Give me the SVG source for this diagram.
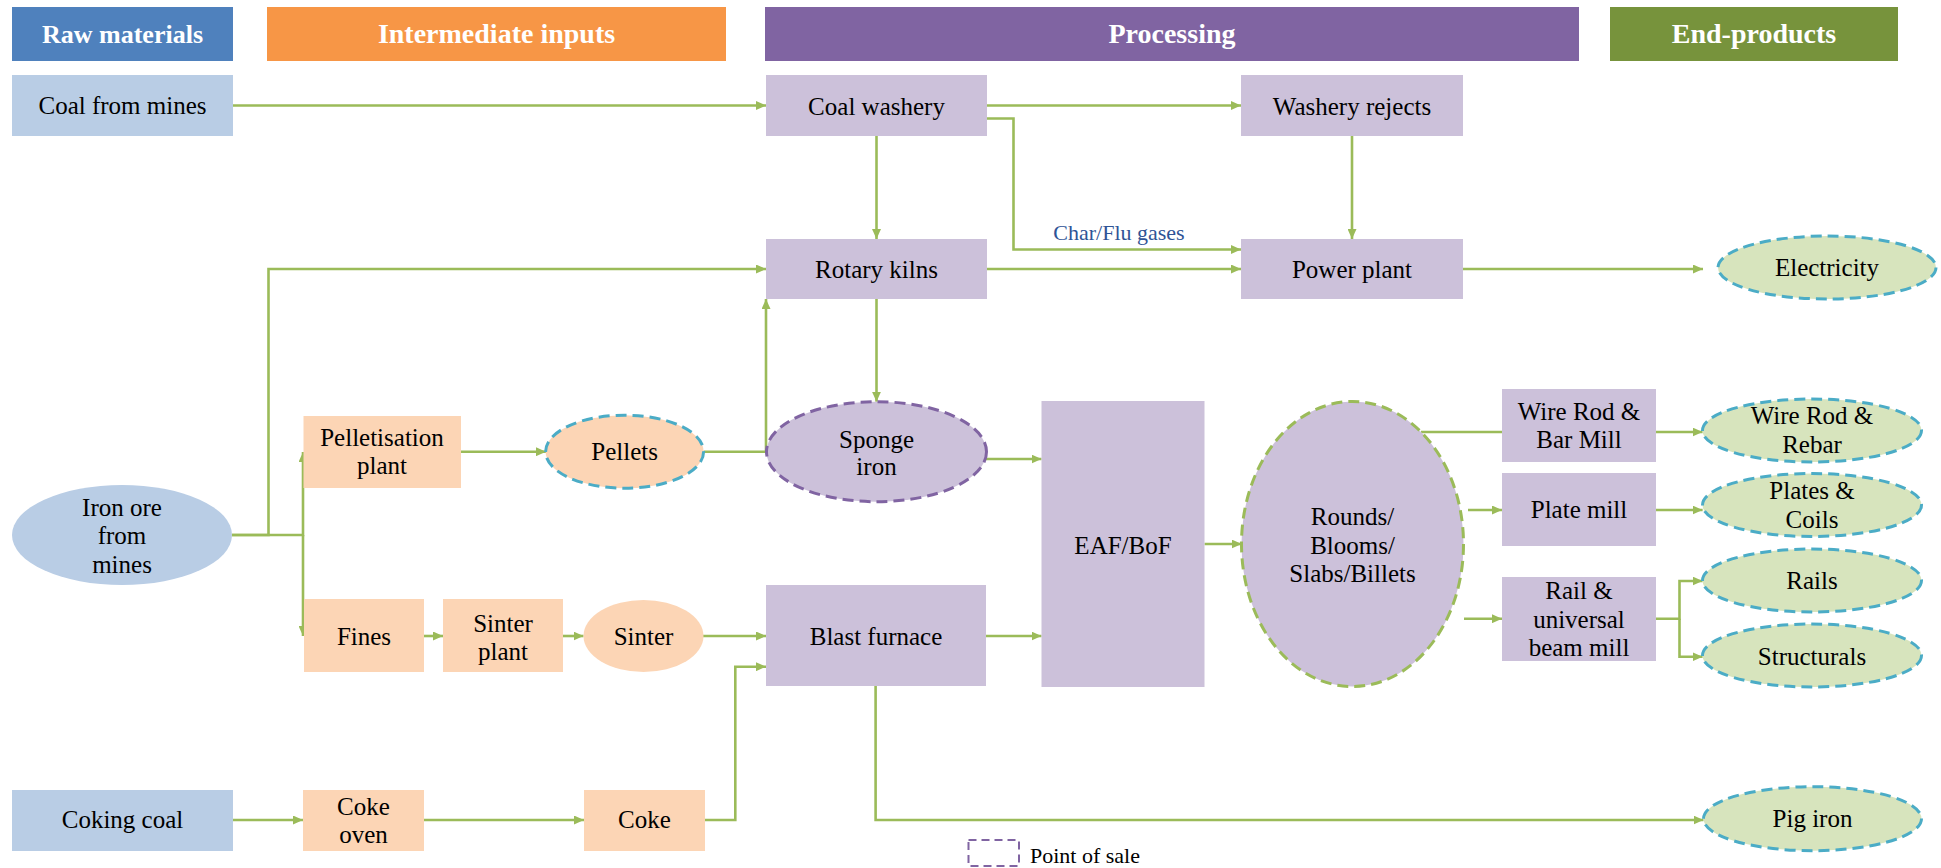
<svg xmlns="http://www.w3.org/2000/svg" width="1941" height="868" viewBox="0 0 1941 868">
<style>
text{font-family:"Liberation Serif","Times New Roman",serif;font-size:25px;fill:#000;text-anchor:middle}
.hd{font-weight:bold;font-size:28px;fill:#fff}
.raw{fill:#B9CDE5}
.mid{fill:#FCD5B5}
.proc{fill:#CCC1DA}
.end{fill:#D7E4BD}
.sale{stroke:#4BACC6;stroke-width:3;stroke-dasharray:11 6}
.conn path{fill:none;stroke:#9BBB59;stroke-width:2.6}
.lbl{font-size:22px;fill:#2F5496}
</style>
<defs>
<marker id="ah" viewBox="0 0 10 9" refX="10" refY="4.5" markerWidth="10" markerHeight="9" markerUnits="userSpaceOnUse" orient="auto">
<path d="M0,0 L10,4.5 L0,9 z" fill="#9BBB59"/>
</marker>
</defs>
<rect width="1941" height="868" fill="#fff"/>

<g id="headers">
<g id="h-raw"><rect x="12" y="7" width="221" height="54" fill="#4F81BD"/><text class="hd" x="122.5" y="43" style="font-size:26px">Raw materials</text></g>
<g id="h-int"><rect x="267" y="7" width="459" height="54" fill="#F79646"/><text class="hd" x="496.5" y="43">Intermediate inputs</text></g>
<g id="h-proc"><rect x="765" y="7" width="814" height="54" fill="#8064A2"/><text class="hd" x="1172" y="43">Processing</text></g>
<g id="h-end"><rect x="1610" y="7" width="288" height="54" fill="#77933C"/><text class="hd" x="1754" y="43">End-products</text></g>
</g>

<g class="conn" id="connectors">
<path d="M233,105.5 H766" marker-end="url(#ah)"/>
<path d="M987,105.5 H1241" marker-end="url(#ah)"/>
<path d="M987,118.5 H1013.5 V249.5 H1241" marker-end="url(#ah)"/>
<path d="M876.5,136 V239" marker-end="url(#ah)"/>
<path d="M1352,136 V239" marker-end="url(#ah)"/>
<path d="M987,269 H1241" marker-end="url(#ah)"/>
<path d="M1463,269 H1703" marker-end="url(#ah)"/>
<path d="M232,535 H268.5 V269 H766" marker-end="url(#ah)"/>
<path d="M232,535 H303 V452" marker-end="url(#ah)"/>
<path d="M303,535 V636" marker-end="url(#ah)"/>
<path d="M461,451.7 H546" marker-end="url(#ah)"/>
<path d="M703.5,451.7 H767"/>
<path d="M766,451.7 V299" marker-end="url(#ah)"/>
<path d="M876.5,299 V401.7" marker-end="url(#ah)"/>
<path d="M424,636 H443" marker-end="url(#ah)"/>
<path d="M563,636 H583.5" marker-end="url(#ah)"/>
<path d="M703,636 H766" marker-end="url(#ah)"/>
<path d="M233,820 H303" marker-end="url(#ah)"/>
<path d="M424,820 H584" marker-end="url(#ah)"/>
<path d="M705,820 H735.3 V666.7 H766" marker-end="url(#ah)"/>
<path d="M875.6,686 V820 H1703.5" marker-end="url(#ah)"/>
<path d="M986,459 H1041.5" marker-end="url(#ah)"/>
<path d="M986,636 H1041.5" marker-end="url(#ah)"/>
<path d="M1204.5,544 H1241.7" marker-end="url(#ah)"/>
<path d="M1421,432 H1502"/>
<path d="M1468,510 H1502" marker-end="url(#ah)"/>
<path d="M1464,618.7 H1502" marker-end="url(#ah)"/>
<path d="M1656,432 H1702.6" marker-end="url(#ah)"/>
<path d="M1656,510 H1702.6" marker-end="url(#ah)"/>
<path d="M1656,618.7 H1679.5 V581 H1702.6" marker-end="url(#ah)"/>
<path d="M1679.5,618.7 V656.7 H1702.6" marker-end="url(#ah)"/>
</g>
<text class="lbl" x="1119" y="240">Char/Flu gases</text>

<g id="coal-mines"><rect class="raw" x="12" y="75" width="221" height="61"/><text x="122.5" y="114">Coal from mines</text></g>
<g id="iron-ore"><ellipse class="raw" cx="122" cy="535" rx="110" ry="50"/><text x="122" y="516">Iron ore</text><text x="122" y="544">from</text><text x="122" y="572.7">mines</text></g>
<g id="coking-coal"><rect class="raw" x="12" y="790" width="221" height="61"/><text x="122.5" y="828.3">Coking coal</text></g>

<g id="pelletisation"><rect class="mid" x="303.5" y="416" width="157.5" height="72"/><text x="382" y="445.7">Pelletisation</text><text x="382" y="474.3">plant</text></g>
<g id="pellets"><ellipse class="mid sale" cx="624.6" cy="451.7" rx="79" ry="36.5"/><text x="624.6" y="460">Pellets</text></g>
<g id="fines"><rect class="mid" x="304" y="599" width="120" height="73"/><text x="364" y="644.5">Fines</text></g>
<g id="sinter-plant"><rect class="mid" x="443" y="599" width="120" height="73"/><text x="503" y="631.7">Sinter</text><text x="503" y="660">plant</text></g>
<g id="sinter"><ellipse class="mid" cx="643.5" cy="636" rx="60" ry="36"/><text x="643.5" y="644.5">Sinter</text></g>
<g id="coke-oven"><rect class="mid" x="303" y="790" width="121" height="61"/><text x="363.5" y="815">Coke</text><text x="363.5" y="843.3">oven</text></g>
<g id="coke"><rect class="mid" x="584" y="790" width="121" height="61"/><text x="644.5" y="828.3">Coke</text></g>

<g id="coal-washery"><rect class="proc" x="766" y="75" width="221" height="61"/><text x="876.5" y="115">Coal washery</text></g>
<g id="washery-rejects"><rect class="proc" x="1241" y="75" width="222" height="61"/><text x="1352" y="115">Washery rejects</text></g>
<g id="rotary-kilns"><rect class="proc" x="766" y="239" width="221" height="60"/><text x="876.5" y="278.3">Rotary kilns</text></g>
<g id="power-plant"><rect class="proc" x="1241" y="239" width="222" height="60"/><text x="1352" y="278.3">Power plant</text></g>
<g id="sponge-iron"><ellipse class="proc" cx="876.5" cy="451.7" rx="110" ry="50" stroke="#8064A2" stroke-width="3" stroke-dasharray="11 6"/><text x="876.5" y="447.7">Sponge</text><text x="876.5" y="475">iron</text></g>
<g id="blast-furnace"><rect class="proc" x="766" y="585" width="220" height="101"/><text x="876" y="645">Blast furnace</text></g>
<g id="eaf-bof"><rect class="proc" x="1041.5" y="401" width="163" height="286"/><text x="1123" y="554">EAF/BoF</text></g>
<g id="rounds"><ellipse class="proc" cx="1352.5" cy="544" rx="111" ry="142.5" stroke="#9BBB59" stroke-width="3" stroke-dasharray="11 6"/><text x="1352.5" y="525">Rounds/</text><text x="1352.5" y="554">Blooms/</text><text x="1352.5" y="582">Slabs/Billets</text></g>
<g id="wire-mill"><rect class="proc" x="1502" y="389" width="154" height="73"/><text x="1579" y="420">Wire Rod &amp;</text><text x="1579" y="448.3">Bar Mill</text></g>
<g id="plate-mill"><rect class="proc" x="1502" y="473" width="154" height="73"/><text x="1579" y="518.3">Plate mill</text></g>
<g id="rail-mill"><rect class="proc" x="1502" y="577" width="154" height="84"/><text x="1579" y="599">Rail &amp;</text><text x="1579" y="627.7">universal</text><text x="1579" y="656">beam mill</text></g>

<g id="electricity"><ellipse class="end sale" cx="1827" cy="267.5" rx="109" ry="31.5"/><text x="1827" y="275.7">Electricity</text></g>
<g id="wire-rebar"><ellipse class="end sale" cx="1812" cy="430.5" rx="109.5" ry="31.5"/><text x="1812" y="424.3">Wire Rod &amp;</text><text x="1812" y="453.3">Rebar</text></g>
<g id="plates-coils"><ellipse class="end sale" cx="1812" cy="505" rx="109.5" ry="31.5"/><text x="1812" y="499.3">Plates &amp;</text><text x="1812" y="528.3">Coils</text></g>
<g id="rails"><ellipse class="end sale" cx="1812" cy="580.5" rx="109.5" ry="31.5"/><text x="1812" y="589.3">Rails</text></g>
<g id="structurals"><ellipse class="end sale" cx="1812" cy="655.5" rx="109.5" ry="31.5"/><text x="1812" y="664.7">Structurals</text></g>
<g id="pig-iron"><ellipse class="end sale" cx="1812.5" cy="818.7" rx="109" ry="32"/><text x="1812.5" y="826.7">Pig iron</text></g>

<g id="legend"><rect x="968.5" y="840" width="50.5" height="26" fill="none" stroke="#8064A2" stroke-width="2" stroke-dasharray="8 5"/><text x="1030" y="863" style="text-anchor:start;font-size:22px">Point of sale</text></g>
</svg>
